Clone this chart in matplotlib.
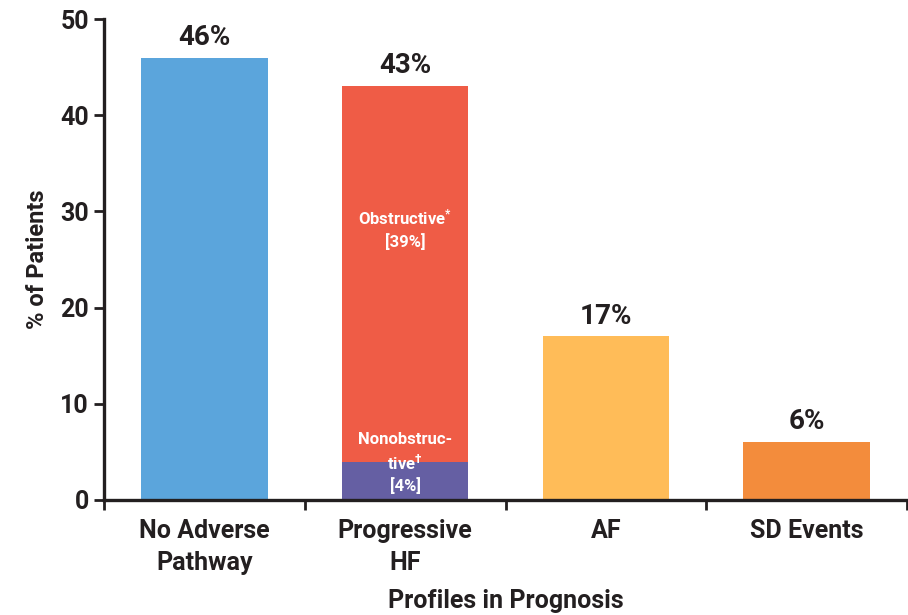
import numpy as np
import matplotlib.pyplot as plt

categories = ["No Adverse\nPathway", "Progressive\nHF", "AF", "SD Events"]
totals = [46, 43, 17, 6]
nonobstructive = 4
obstructive = 39
bar_colors = ["#5BA5DC", "#EF5C46", "#FFBC58", "#F38C3C"]
purple = "#655FA3"
ink = "#231F20"

plt.rcParams['font.family'] = ['Roboto', 'DejaVu Sans']
plt.rcParams['font.weight'] = 'bold'
plt.rcParams['axes.labelweight'] = 'bold'
plt.rcParams['mathtext.fontset'] = 'custom'
plt.rcParams['mathtext.rm'] = 'Roboto:bold'
plt.rcParams['mathtext.default'] = 'rm'

fig = plt.figure(figsize=(9.08, 6.15), dpi=100)
ax = fig.add_axes([0.1145, 0.187, 0.8845, 0.782])

x = np.arange(len(categories))
w = 0.63

# plain bars, progressive HF drawn as a stack below
for i, (v, c) in enumerate(zip(totals, bar_colors)):
    if i == 1:
        ax.bar(i, nonobstructive, w, color=purple)
        ax.bar(i, obstructive, w, bottom=nonobstructive, color=c)
    else:
        ax.bar(i, v, w, color=c)
    ax.annotate(f"{v}%", (i, v), xytext=(0, 5), textcoords="offset points",
                ha="center", va="bottom", fontsize=20, color=ink, fontweight="bold")

ax.text(1, 28.2, "Obstructive$^{*}$\n[39%]", ha="center", va="center",
        color="white", fontsize=12, fontweight="bold", linespacing=1.45)
ax.text(1, 3.85, "Nonobstruc-\ntive$^{\u2020}$\n[4%]", ha="center", va="center",
        color="white", fontsize=12, fontweight="bold", linespacing=1.35)

ax.set_xlim(-0.5, 3.5)
ax.set_ylim(0, 50)
ax.set_yticks([0, 10, 20, 30, 40, 50])
ax.set_xticks(x)
ax.set_xticklabels(categories, fontsize=18, color=ink, linespacing=1.38)
ax.set_xticks([-0.5, 0.5, 1.5, 2.5, 3.5], minor=True)
ax.tick_params(axis="x", which="major", length=0, pad=14)
ax.tick_params(axis="x", which="minor", length=7, width=2, color=ink)
ax.tick_params(axis="y", length=7, width=2, color=ink, labelsize=18,
               labelcolor=ink, pad=4)

for s in ["top", "right"]:
    ax.spines[s].set_visible(False)
for s in ["left", "bottom"]:
    ax.spines[s].set_linewidth(2.4)
    ax.spines[s].set_color(ink)

ax.set_ylabel("% of Patients", fontsize=17, color=ink, labelpad=8)
ax.set_xlabel("Profiles in Prognosis", fontsize=18, color=ink, labelpad=10)

fig.savefig("out.png", dpi=100)
